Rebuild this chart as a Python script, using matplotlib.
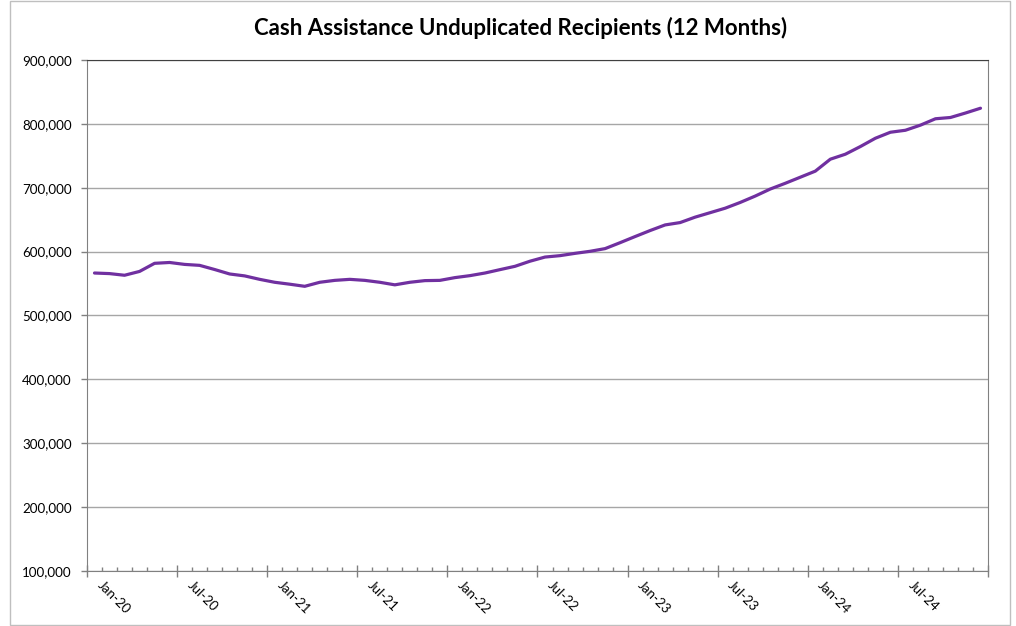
import matplotlib.pyplot as plt
from matplotlib.patches import Rectangle
from matplotlib.ticker import FuncFormatter
import numpy as np

plt.rcParams['font.family'] = ['Lato', 'DejaVu Sans']

title = 'Cash Assistance Unduplicated Recipients (12 Months)'

# monthly, Jan-20 .. Dec-24
months = [f'{m}-{y}' for y in range(20, 25)
          for m in ['Jan', 'Feb', 'Mar', 'Apr', 'May', 'Jun',
                    'Jul', 'Aug', 'Sep', 'Oct', 'Nov', 'Dec']]

recipients = [
    566500, 565600, 563000, 569000, 581700, 583000, 580000, 578500, 572000, 565000, 562000, 556600,
    552000, 549000, 545700, 552000, 555000, 556600, 555000, 552000, 548000, 552000, 554600, 555000,
    559300, 562400, 566500, 571800, 577000, 585000, 591500, 593700, 597300, 600500, 604700, 614000,
    623600, 633000, 641800, 645500, 654000, 661000, 668000, 677000, 687000, 698000, 707000, 716500,
    726000, 744700, 752500, 764500, 777500, 786900, 790000, 798000, 808000, 810000, 817000, 824500,
]

label_every = 6

fig = plt.figure(figsize=(10.16, 6.26), dpi=100)
ax = fig.add_axes([87 / 1016, 1 - 571 / 626, 901 / 1016, 511 / 626])

x = np.arange(len(months))
ax.plot(x, recipients, color='#7030A0', lw=2.3, solid_capstyle='round', zorder=3)

ax.set_xlim(-0.5, len(months) - 0.5)
ax.set_ylim(100000, 900000)
ax.set_yticks(np.arange(100000, 900001, 100000))
ax.yaxis.set_major_formatter(FuncFormatter(lambda v, p: f'{int(v):,}'))
ax.tick_params(axis='y', length=4, width=1, color='#808080', pad=7, labelsize=9.6)
ax.grid(axis='y', color='#A6A6A6', lw=1)
ax.set_axisbelow(True)

# tick marks sit between the month categories
ax.set_xticks(np.arange(-0.5, len(months), label_every))
ax.set_xticklabels([])
ax.set_xticks(np.arange(-0.5, len(months), 1), minor=True)
ax.tick_params(axis='x', which='major', direction='inout', length=8, width=1, color='#808080')
ax.tick_params(axis='x', which='minor', direction='in', length=3, width=1, color='#808080')

for i in range(0, len(months), label_every):
    ax.text(i + 0.6, -0.016, months[i], transform=ax.get_xaxis_transform(),
            rotation=-45, rotation_mode='anchor', ha='left', va='top', fontsize=9.6)

for side in ['left', 'right', 'bottom']:
    ax.spines[side].set_color('#808080')
ax.spines['top'].set_color('#404040')

fig.suptitle(title, x=521 / 1016, y=1 - 28 / 626, va='center',
             fontsize=16, fontweight='bold')

fig.add_artist(Rectangle((10 / 1016, 1 / 626), 1000 / 1016, 624 / 626,
                         transform=fig.transFigure, fill=False,
                         edgecolor='#BFBFBF', lw=1))

fig.savefig('out.png', dpi=100)
